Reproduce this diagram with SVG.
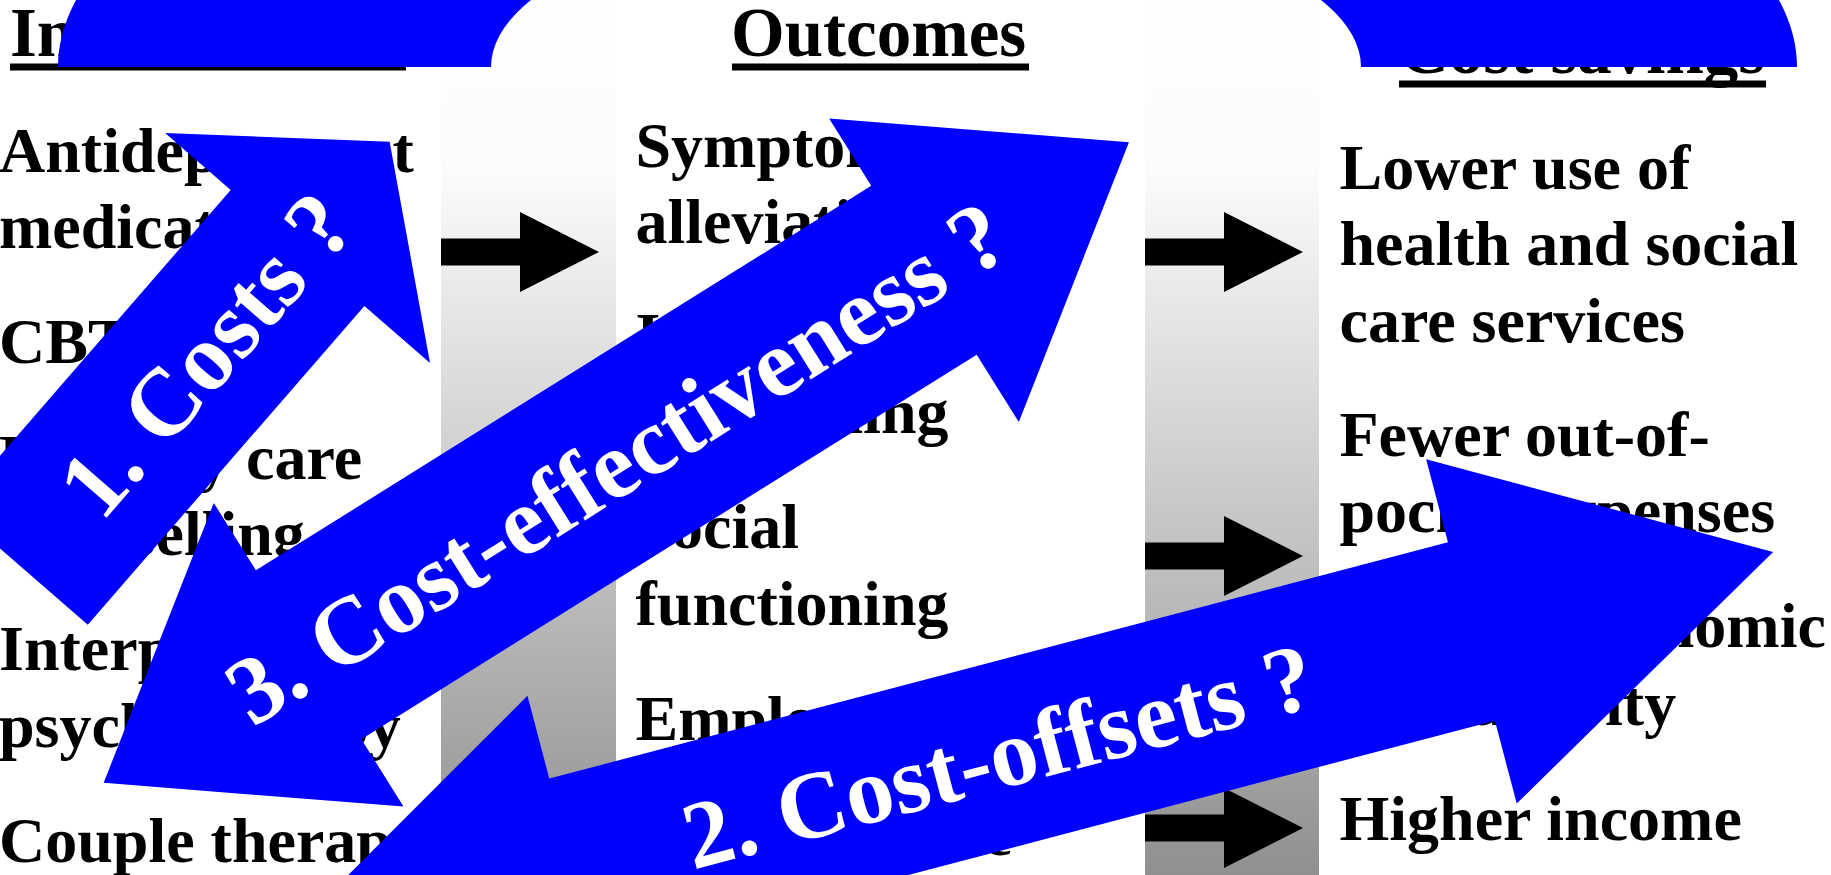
<svg xmlns="http://www.w3.org/2000/svg" width="1831" height="875" viewBox="0 0 1831 875">
  <style>
    .hd { font-family: 'Liberation Serif', 'Times New Roman', serif; font-weight: bold; font-size: 69px; fill: #000; }
    .tx { font-family: 'Liberation Serif', 'Times New Roman', serif; font-weight: bold; font-size: 64px; fill: #000; }
    .ul { fill: #000; }
    .blue { fill: #0000ff; }
    .lbl { font-family: 'Liberation Serif', 'Times New Roman', serif; font-weight: bold; font-size: 96px; fill: #fff; text-anchor: middle; dominant-baseline: central; }
    .band { fill: url(#bandGrad); }
    .blk { fill: #000; }
  </style>
  <defs>
    <linearGradient id="bandGrad" gradientUnits="userSpaceOnUse" x1="0" y1="0" x2="0" y2="875">
      <stop offset="0" stop-color="#ffffff"/>
      <stop offset="0.2" stop-color="#fbfbfb"/>
      <stop offset="1" stop-color="#909090"/>
    </linearGradient>
    <!-- block arrow pointing right, origin at shaft's left end centre -->
    <polygon id="flow" points="0,-13.5 79,-13.5 79,-40 158,0 79,40 79,13.5 0,13.5"/>
  </defs>

  <rect width="1831" height="875" fill="#fff"/>

  <!-- shaded gutters between the columns -->
  <g id="bands">
    <rect class="band" x="441" y="0" width="175" height="875"/>
    <rect class="band" x="1145" y="0" width="174" height="875"/>
  </g>

  <!-- column 1 -->
  <g id="col-interventions">
    <text class="hd" x="10" y="56">Interventions</text>
    <rect class="ul" x="10" y="63.5" width="396" height="7"/>
    <text class="tx" x="-1" y="172">Antidepressant</text>
    <text class="tx" x="-1" y="248">medication</text>
    <text class="tx" x="-1" y="363">CBT</text>
    <text class="tx" x="-1" y="479">Primary care</text>
    <text class="tx" x="-1" y="555">counselling</text>
    <text class="tx" x="-1" y="670">Interpersonal</text>
    <text class="tx" x="-1" y="747">psychotherapy</text>
    <text class="tx" x="-1" y="862">Couple therapy</text>
  </g>

  <!-- column 2 -->
  <g id="col-outcomes">
    <text class="hd" x="731" y="56">Outcomes</text>
    <rect class="ul" x="732" y="63.5" width="297" height="7"/>
    <text class="tx" x="635.5" y="167">Symptom</text>
    <text class="tx" x="635.5" y="243">alleviation</text>
    <text class="tx" x="635.5" y="357">Improved role</text>
    <text class="tx" x="635.5" y="433">functioning</text>
    <text class="tx" x="635.5" y="548">Social</text>
    <text class="tx" x="635.5" y="625">functioning</text>
    <text class="tx" x="635.5" y="740">Employment</text>
    <text class="tx" x="635.5" y="855">Quality of life</text>
  </g>

  <!-- column 3 -->
  <g id="col-savings">
    <text class="hd" x="1399" y="73">Cost savings</text>
    <rect class="ul" x="1399" y="80.5" width="367" height="7"/>
    <text class="tx" x="1339.5" y="188.5">Lower use of</text>
    <text class="tx" x="1339.5" y="265">health and social</text>
    <text class="tx" x="1339.5" y="341.5">care services</text>
    <text class="tx" x="1339.5" y="455.5">Fewer out-of-</text>
    <text class="tx" x="1339.5" y="532">pocket expenses</text>
    <text class="tx" x="1339.5" y="647">Greater economic</text>
    <text class="tx" x="1339.5" y="724.5">productivity</text>
    <text class="tx" x="1339.5" y="840">Higher income</text>
  </g>

  <g id="connectors">
    <!-- flow arrows in the gutters -->
    <use href="#flow" class="blk" x="441" y="252"/>
    <use href="#flow" class="blk" x="1145" y="252"/>
    <use href="#flow" class="blk" x="1145" y="556"/>
    <use href="#flow" class="blk" x="1145" y="828"/>

    <!-- arc running over the top from the first to the last column -->
    <path id="arc-top" class="blue" d="M58,67 A869.5,330 0 0 1 1797,67 L1361,67 A435,160 0 0 0 491,67 Z"/>

    <!-- 1. Costs -->
    <g id="arrow-costs" transform="translate(205.3,354.25) rotate(-49.05)">
      <polygon class="blue" points="281.25,0 140.75,-175.4 140.75,-88.5 -281.25,-88.5 -281.25,88.5 140.75,88.5 140.75,175.4"/>
      <text class="lbl" x="0" y="0">1. Costs ?</text>
    </g>

    <!-- 3. Cost-effectiveness -->
    <g id="arrow-effectiveness" transform="translate(616.3,462.5) rotate(-32)">
      <polygon class="blue" points="604.5,0 362.8,-179 362.8,-99.5 -362.8,-99.5 -362.8,-179 -604.5,0 -362.8,179 -362.8,99.5 362.8,99.5 362.8,179"/>
      <text class="lbl" x="0" y="0">3. Cost-effectiveness ?</text>
    </g>

    <!-- 2. Cost-offsets -->
    <g id="arrow-offsets" transform="translate(1021.25,749.85) rotate(-14.74)">
      <polygon class="blue" points="777.5,0 465.5,-178 465.5,-92.3 -463.75,-92.3 -463.75,-178 -768.75,0 -463.75,178 -463.75,92.3 465.5,92.3 465.5,178"/>
      <text class="lbl" x="-24" y="0">2. Cost-offsets ?</text>
    </g>
  </g>
</svg>
